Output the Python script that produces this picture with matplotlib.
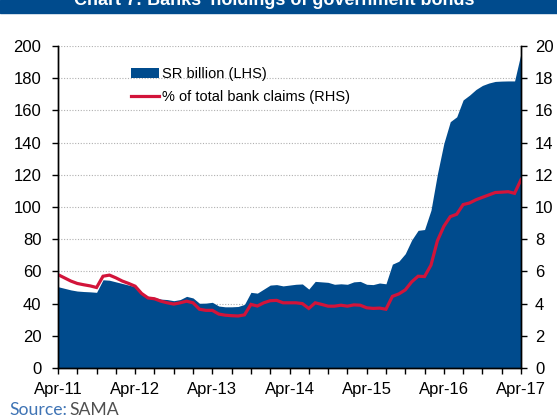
import matplotlib
matplotlib.use("Agg")
import matplotlib.pyplot as plt
from matplotlib.patches import Patch, Rectangle
from matplotlib.lines import Line2D
import numpy as np

# monthly data, Apr-11 .. Apr-17
holdings_sr_bn = [50.5, 49.5, 48.5, 47.8, 47.5, 47.3, 47.0, 54.8, 54.5, 53.5,
                  52.5, 51.5, 50.5, 46.5, 44.5, 43.8, 42.8, 42.5, 41.8, 42.5,
                  44.5, 43.5, 40.2, 40.3, 40.8, 38.5, 38.0, 38.0, 38.2, 39.5,
                  47.0, 46.5, 49.0, 51.5, 51.8, 51.0, 51.5, 52.0, 52.2, 49.0,
                  53.8, 53.5, 53.2, 52.0, 52.3, 52.0, 53.5, 53.8, 52.0, 51.8,
                  52.8, 52.3, 64.5, 66.3, 71.0, 79.5, 85.5, 86.0, 98.0, 120.5,
                  139.5, 153.0, 156.0, 166.5, 169.5, 173.0, 175.5, 177.0, 178.0, 178.2,
                  178.3, 178.3, 195.5]
share_of_claims = [5.80, 5.60, 5.40, 5.25, 5.17, 5.10, 5.00, 5.70, 5.77, 5.60,
                   5.40, 5.25, 5.08, 4.63, 4.35, 4.30, 4.15, 4.05, 3.97, 4.05,
                   4.15, 4.05, 3.65, 3.58, 3.58, 3.35, 3.28, 3.25, 3.23, 3.30,
                   3.95, 3.85, 4.05, 4.18, 4.20, 4.05, 4.05, 4.05, 4.00, 3.70,
                   4.05, 3.95, 3.84, 3.84, 3.90, 3.84, 3.92, 3.90, 3.74, 3.70,
                   3.72, 3.65, 4.45, 4.60, 4.85, 5.35, 5.70, 5.68, 6.39, 7.90,
                   8.80, 9.40, 9.55, 10.15, 10.25, 10.45, 10.60, 10.75, 10.90, 10.92,
                   10.95, 10.85, 11.70]
year_labels = ["Apr-11", "Apr-12", "Apr-13", "Apr-14", "Apr-15", "Apr-16", "Apr-17"]
title = "Chart 7: Banks' holdings of government bonds"

blue = "#004B8D"
red = "#D2143A"
plt.rcParams["font.family"] = ["Liberation Sans", "DejaVu Sans"]

months = np.arange(len(holdings_sr_bn))

fig = plt.figure(figsize=(5.57, 4.18), dpi=100)
ax = fig.add_axes([58 / 557, 1 - 368 / 418, 463 / 557, 322 / 418])
ax2 = ax.twinx()

# header band, text cut off at top like in the source
fig.patches.append(Rectangle((0, 1 - 13 / 418), 1, 13 / 418, transform=fig.transFigure,
                             color="#004B8D", zorder=0))
fig.text(274 / 557, 1 - 5 / 418, title, color="white", fontsize=13, fontweight="bold",
         ha="center", va="baseline")

ax.set_axisbelow(True)
ax.yaxis.grid(True, linestyle=(0, (1, 1.5)), color="#b0b0b0", linewidth=0.8)
ax.fill_between(months, 0, holdings_sr_bn, color=blue, linewidth=0, zorder=2)
ax2.plot(months, share_of_claims, color=red, linewidth=2.3, solid_joinstyle="miter")

ax.set_xlim(0, 72)
ax.set_ylim(0, 200)
ax2.set_ylim(0, 20)
ax.set_yticks(range(0, 201, 20))
ax2.set_yticks(range(0, 21, 2))

xt = list(range(0, 73, 3))
ax.set_xticks(xt)
ax.set_xticklabels([year_labels[i // 12] if i % 12 == 0 else "" for i in xt])

for a in (ax, ax2):
    a.spines["top"].set_visible(False)
    for s in a.spines.values():
        s.set_color("black")
        s.set_linewidth(1.0)
    a.tick_params(axis="both", length=4, width=1, colors="black", labelsize=12, pad=4)
ax.tick_params(axis="y", pad=8)
ax2.tick_params(axis="y", pad=6)
ax.tick_params(axis="x", pad=6)

handles = [Patch(facecolor=blue, edgecolor="none"),
           Line2D([], [], color=red, linewidth=2.3)]
ax.legend(handles, ["SR billion (LHS)", "% of total bank claims (RHS)"],
          loc="upper left", bbox_to_anchor=(0.129, 0.975), frameon=False,
          fontsize=10.5, handlelength=1.92, handleheight=0.6, handletextpad=0.2,
          labelspacing=0.58)

fig.text(9 / 557, 3 / 418, "Source:", color="#3f74b5", fontsize=12.7, family="Lato",
         va="baseline")
fig.text(69 / 557, 3 / 418, "SAMA", color="#505050", fontsize=12.7, family="Lato",
         va="baseline")

fig.savefig("out.png", dpi=100)
